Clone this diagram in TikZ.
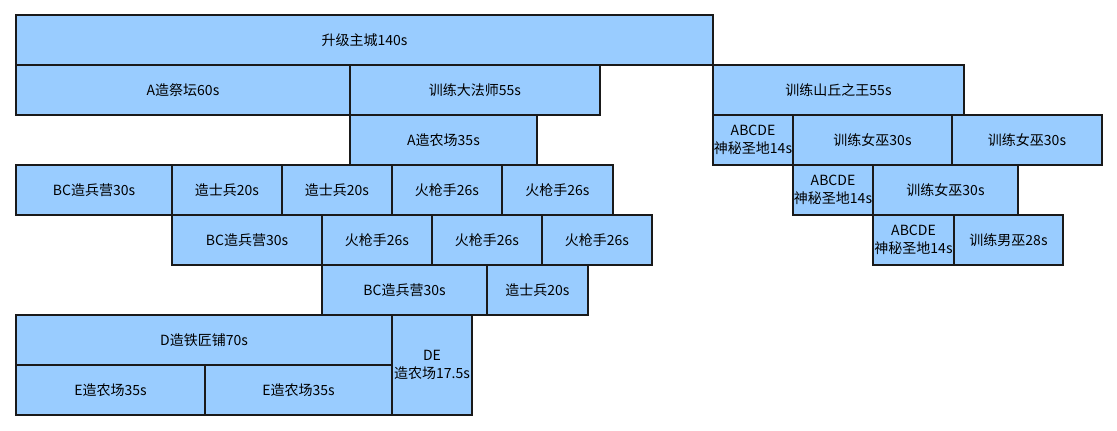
\documentclass[tikz,border=0pt]{standalone}
\usepackage{fontspec}
\setmainfont{Noto Sans CJK SC}
\definecolor{boxfill}{HTML}{99CCFF}
\definecolor{boxline}{HTML}{1A1A1A}
\tikzset{
  blk/.style={draw=boxline, fill=boxfill, line width=1.8pt, inner sep=0pt, outer sep=0pt,
    anchor=north west, align=center, font=\fontsize{14}{18.5}\selectfont},
}
\newcommand{\mkblk}[6]{% name, x1, y1, x2, y2, text
  \node[blk, minimum width={(#4-#2)*1pt}, minimum height={(#5-#3)*1pt}] (#1) at (#2pt,-#3pt) {#6};}
\begin{document}
\begin{tikzpicture}
\useasboundingbox (0,0) rectangle (1117pt,-431pt);
\mkblk{zc}{16}{15}{713}{65}{升级主城140s}
\mkblk{jt}{16}{65}{350}{115}{A造祭坛60s}
\mkblk{dfs}{350}{65}{600}{115}{训练大法师55s}
\mkblk{sq}{713}{65}{964}{115}{训练山丘之王55s}
\mkblk{nca}{350}{115}{537}{165}{A造农场35s}
\mkblk{sma}{713}{115}{793}{165}{ABCDE\\神秘圣地14s}
\mkblk{nwa}{793}{115}{952}{165}{训练女巫30s}
\mkblk{nwb}{952}{115}{1102}{165}{训练女巫30s}
\mkblk{bya}{16}{165}{172}{215}{BC造兵营30s}
\mkblk{ssa}{172}{165}{282}{215}{造士兵20s}
\mkblk{ssb}{282}{165}{392}{215}{造士兵20s}
\mkblk{hqa}{392}{165}{502}{215}{火枪手26s}
\mkblk{hqb}{502}{165}{613}{215}{火枪手26s}
\mkblk{smb}{793}{165}{873}{215}{ABCDE\\神秘圣地14s}
\mkblk{nwc}{873}{165}{1018}{215}{训练女巫30s}
\mkblk{byb}{172}{215}{322}{265}{BC造兵营30s}
\mkblk{hqc}{322}{215}{432}{265}{火枪手26s}
\mkblk{hqd}{432}{215}{542}{265}{火枪手26s}
\mkblk{hqe}{542}{215}{652}{265}{火枪手26s}
\mkblk{smc}{873}{215}{954}{265}{ABCDE\\神秘圣地14s}
\mkblk{nanw}{954}{215}{1063}{265}{训练男巫28s}
\mkblk{byc}{322}{265}{487}{315}{BC造兵营30s}
\mkblk{ssc}{487}{265}{588}{315}{造士兵20s}
\mkblk{tjp}{16}{315}{392}{365}{D造铁匠铺70s}
\mkblk{ncd}{392}{315}{472}{415}{DE\\造农场17.5s}
\mkblk{ncb}{16}{365}{205}{415}{E造农场35s}
\mkblk{ncc}{205}{365}{392}{415}{E造农场35s}
\end{tikzpicture}
\end{document}
